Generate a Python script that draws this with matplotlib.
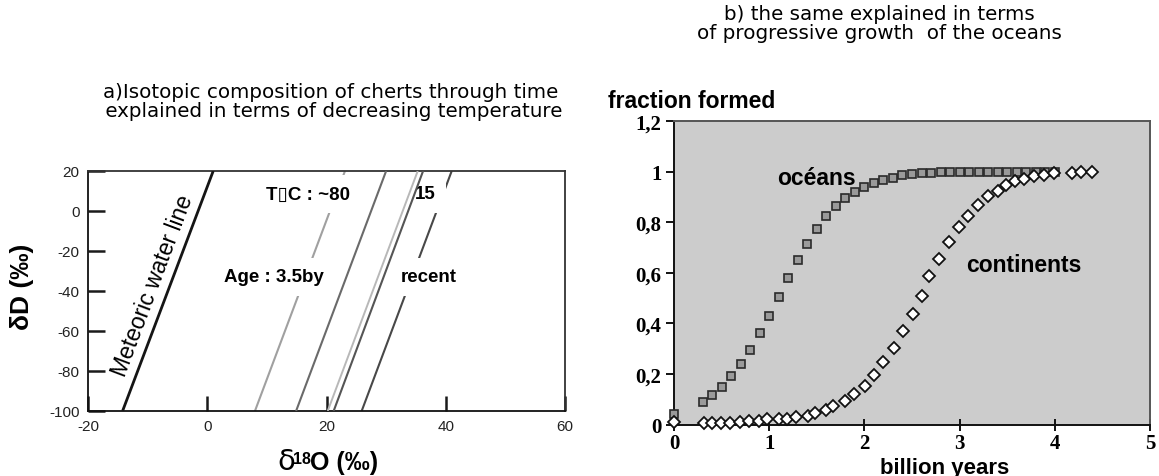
import matplotlib
matplotlib.use("Agg")
import matplotlib.pyplot as plt
import numpy as np

# ---------------- data: panel a ----------------
dD_range = [-100, 20]
line_d18O_bottom = [-14.2, 8.0, 14.9, 20.2, 21.2, 25.9]   # d18O at dD=-100
line_d18O_top = [1.0, 23.1, 30.0, 35.3, 36.2, 41.0]       # d18O at dD=20
a_xticks = [-20, 0, 20, 40, 60]
a_yticks = [-100, -80, -60, -40, -20, 0, 20]

# ---------------- data: panel b ----------------
years_oceans = [0.0, 0.3, 0.4, 0.5, 0.6, 0.7, 0.8, 0.9, 1.0, 1.1, 1.2, 1.3, 1.4,
                1.5, 1.6, 1.7, 1.8, 1.9, 2.0, 2.1, 2.2, 2.3, 2.4, 2.5, 2.6, 2.7,
                2.8, 2.9, 3.0, 3.1, 3.2, 3.3, 3.4, 3.5, 3.6, 3.7, 3.8, 3.9, 4.0]
frac_oceans = [0.04, 0.09, 0.117, 0.149, 0.19, 0.238, 0.296, 0.361, 0.428, 0.506,
               0.579, 0.649, 0.714, 0.773, 0.823, 0.864, 0.896, 0.918, 0.941,
               0.956, 0.967, 0.976, 0.985, 0.99, 0.994, 0.996,
               0.998, 0.998, 0.998, 0.998, 0.998, 0.998, 0.998,
               1.0, 1.0, 1.0, 1.0, 1.0, 1.0]
years_cont = [0.0, 0.31, 0.40, 0.49, 0.59, 0.69, 0.79, 0.89, 0.98, 1.10, 1.19, 1.28,
              1.41, 1.48, 1.60, 1.67, 1.80, 1.89, 2.01, 2.10, 2.20, 2.31, 2.41,
              2.51, 2.60, 2.68, 2.78, 2.89, 2.99, 3.09, 3.19, 3.30, 3.40, 3.49,
              3.58, 3.68, 3.78, 3.89, 3.99, 4.18, 4.28, 4.39]
frac_cont = [0.01, 0.005, 0.005, 0.005, 0.007, 0.011, 0.012, 0.014, 0.02, 0.02,
             0.023, 0.031, 0.034, 0.044, 0.059, 0.072, 0.093, 0.122, 0.151, 0.195,
             0.248, 0.303, 0.368, 0.435, 0.51, 0.587, 0.655, 0.721, 0.781, 0.825,
             0.869, 0.904, 0.924, 0.946, 0.962, 0.972, 0.981, 0.988, 0.994, 0.996,
             1.0, 1.0]
b_xticks = [0, 1, 2, 3, 4, 5]
b_yticks = [0, 0.2, 0.4, 0.6, 0.8, 1.0, 1.2]
b_yticklabels = ["0", "0,2", "0,4", "0,6", "0,8", "1", "1,2"]

W, H = 1159, 477
fig = plt.figure(figsize=(W / 100, H / 100), dpi=100)

def fx(px):
    return px / W

def fy(py):
    return 1 - py / H

SANS = ["Liberation Sans", "DejaVu Sans"]

# ================= panel a =================
axa = fig.add_axes([fx(88), fy(412), fx(565) - fx(88), fy(172) - fy(412)])
axa.set_xlim(-20, 60)
axa.set_ylim(-100, 20)
line_colors = ["#151515", "#a0a0a0", "#6a6a6a", "#b8b8b8", "#555555", "#484848"]
line_widths = [2.0, 1.5, 1.5, 1.4, 1.5, 1.5]
line_z = [4, 2, 4, 4, 4, 2]
for xb, xt, c, lw, z in zip(line_d18O_bottom, line_d18O_top, line_colors, line_widths, line_z):
    axa.plot([xb, xt], dD_range, color=c, lw=lw, zorder=z, solid_capstyle="butt")

axa.set_xticks(a_xticks)
axa.set_yticks(a_yticks)
axa.set_xticklabels([str(v) for v in a_xticks])
axa.set_yticklabels([str(v) for v in a_yticks])
axa.xaxis.set_tick_params(which="major", direction="in", length=11, width=1.8,
                          color="#1a1a1a", labelsize=11, labelcolor="#222222", pad=6)
axa.yaxis.set_tick_params(which="major", direction="in", length=12, width=1.8,
                          color="#1a1a1a", labelsize=11, labelcolor="#222222", pad=6)
for tl in axa.get_xticklabels() + axa.get_yticklabels():
    tl.set_family(SANS)
for s in axa.spines.values():
    s.set_color("#333333")
    s.set_linewidth(1.3)
axa.spines["left"].set_color("#111111")
axa.spines["bottom"].set_color("#111111")

box = dict(boxstyle="square,pad=0.55", fc="white", ec="none")
axa.text(16.9, 8.5, "T\u25afC : ~80", ha="center", va="center", fontsize=13.5,
         fontweight="bold", family=SANS, bbox=box, zorder=3)
axa.text(36.5, 8.5, "15", ha="center", va="center", fontsize=13.5,
         fontweight="bold", family=SANS, bbox=box, zorder=3)
axa.text(11.2, -33, "Age : 3.5by", ha="center", va="center", fontsize=13.5,
         fontweight="bold", family=SANS, bbox=box, zorder=3)
axa.text(37.2, -33, "recent", ha="center", va="center", fontsize=13.5,
         fontweight="bold", family=SANS, bbox=box, zorder=3)
axa.text(-9.1, -37, "Meteoric water line", ha="center", va="center", fontsize=16.5,
         family=SANS, rotation=69.3, rotation_mode="anchor", zorder=5)

# axis labels of panel a
fig.text(fx(22), fy(287), "\u03b4D (\u2030)", rotation=90, ha="center", va="center",
         fontsize=19, fontweight="bold", family=SANS)
fig.text(fx(277), fy(470), "\u03b4", ha="left", va="baseline",
         fontsize=21, family=["DejaVu Sans"])
fig.text(fx(293), fy(464), "18", ha="left", va="baseline",
         fontsize=11.5, fontweight="bold", family=SANS)
fig.text(fx(310), fy(470), "O (\u2030)", ha="left", va="baseline",
         fontsize=18, fontweight="bold", family=SANS)

fig.text(fx(331), fy(102), "a)Isotopic composition of cherts through time\n explained in terms of decreasing temperature",
         ha="center", va="center", multialignment="center", fontsize=14.3,
         family=["DejaVu Sans"], linespacing=1.05)

# ================= panel b =================
axb = fig.add_axes([fx(674), fy(425.5), fx(1150) - fx(674), fy(122) - fy(425.5)])
axb.set_facecolor("#cccccc")
axb.set_xlim(0, 5)
axb.set_ylim(0, 1.2)
axb.plot(years_oceans, frac_oceans, ls="none", marker="s", ms=5.8, mfc="#9a9a9a",
         mec="#2a2a2a", mew=1.2, clip_on=False, zorder=3)
axb.plot(years_cont, frac_cont, ls="none", marker="D", ms=5.8, mfc="white",
         mec="#111111", mew=1.3, clip_on=False, zorder=3)
axb.set_xticks(b_xticks)
axb.set_yticks(b_yticks)
axb.set_xticklabels([str(v) for v in b_xticks])
axb.set_yticklabels(b_yticklabels)
axb.yaxis.set_tick_params(which="major", direction="out", length=6, width=1.4,
                          color="#111111", labelsize=15, pad=3)
axb.xaxis.set_tick_params(which="major", direction="inout", length=8, width=1.4,
                          color="#111111", labelsize=15, pad=2)
for tl in axb.get_xticklabels() + axb.get_yticklabels():
    tl.set_family(["Liberation Serif", "DejaVu Serif"])
    tl.set_fontweight("bold")
for s in axb.spines.values():
    s.set_linewidth(1.4)
axb.spines["left"].set_color("#111111")
axb.spines["bottom"].set_color("#111111")
axb.spines["top"].set_color("#555555")
axb.spines["right"].set_color("#555555")

axb.text(1.50, 0.976, "océans", ha="center", va="center", fontsize=16.5,
         fontweight="bold", family=SANS, zorder=4)
axb.text(3.67, 0.633, "continents", ha="center", va="center", fontsize=16.5,
         fontweight="bold", family=SANS, zorder=4)
axb.text(0.569, -0.142, "billion years", transform=axb.transAxes, ha="center",
         va="center", fontsize=16, fontweight="bold", family=SANS)
axb.text(-0.139, 1.066, "fraction formed", transform=axb.transAxes, ha="left",
         va="center", fontsize=16.5, fontweight="bold", family=SANS)

fig.text(fx(879), fy(24), "b) the same explained in terms\nof progressive growth  of the oceans",
         ha="center", va="center", multialignment="center", fontsize=14.3,
         family=["DejaVu Sans"], linespacing=1.05)

fig.savefig("out.png", dpi=100)
